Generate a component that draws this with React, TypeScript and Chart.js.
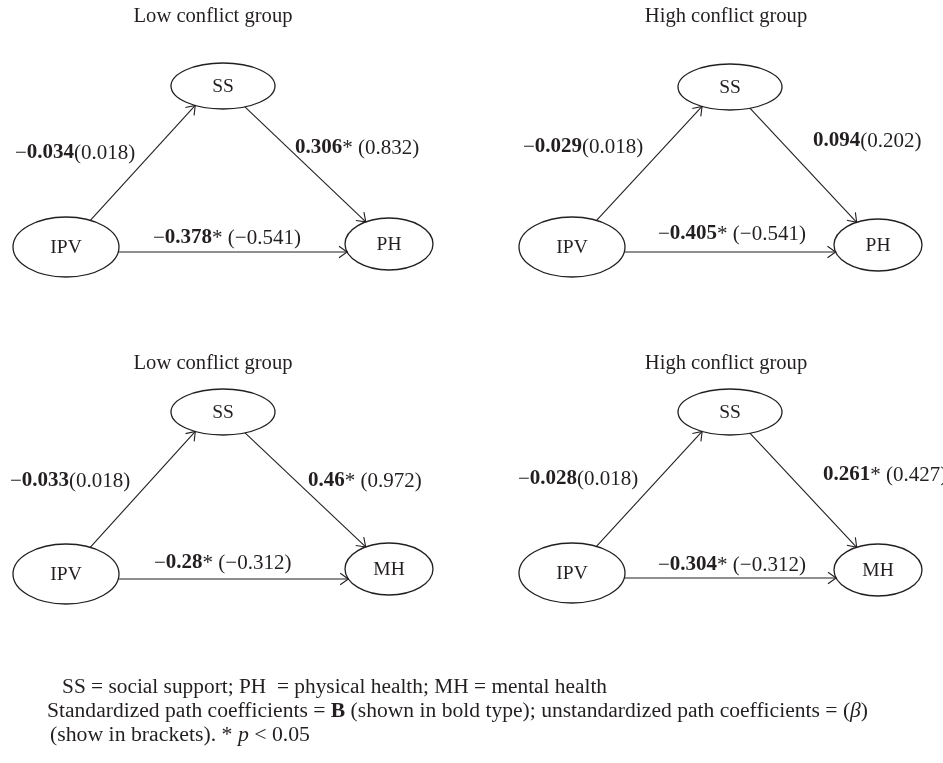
import React, { useEffect, useRef } from "react";
import { Chart, registerables } from "chart.js";
Chart.register(...registerables);

// ---- data ----
const panelTitles = ["Low conflict group", "High conflict group", "Low conflict group", "High conflict group"];
const outcomeNames = ["PH", "PH", "MH", "MH"];
const predictorName = "IPV";
const mediatorName = "SS";

const titleX = [213, 726, 213, 726];
const titleY = [17, 17, 364, 364];
const ssX = [223, 730, 223, 730];
const ssY = [86, 87, 412, 412];
const ipvX = [66, 572, 66, 572];
const ipvY = [247, 247, 574, 573];
const outX = [389, 878, 389, 878];
const outY = [244, 245, 569, 570];

const pathA = [-0.034, -0.029, -0.033, -0.028];
const pathAUn = [0.018, 0.018, 0.018, 0.018];
const pathASig = [false, false, false, false];
const pathB = [0.306, 0.094, 0.46, 0.261];
const pathBUn = [0.832, 0.202, 0.972, 0.427];
const pathBSig = [true, false, true, true];
const pathC = [-0.378, -0.405, -0.28, -0.304];
const pathCUn = [-0.541, -0.541, -0.312, -0.312];
const pathCSig = [true, true, true, true];

const aLabelX = [15, 523, 10, 518];
const aLabelY = [153, 147, 481, 479];
const bLabelX = [295, 813, 308, 823];
const bLabelY = [148, 141, 481, 475];
const cLabelX = [153, 658, 154, 658];
const cLabelY = [238, 234, 563, 565];

const footLines = [
  [{ t: "SS = social support; PH  = physical health; MH = mental health" }],
  [
    { t: "Standardized path coefficients = " },
    { t: "B", b: true },
    { t: " (shown in bold type); unstandardized path coefficients = (" },
    { t: "\u03B2", i: true },
    { t: ")" },
  ],
  [{ t: "(show in brackets). * " }, { t: "p", i: true }, { t: " < 0.05" }],
];
const footX = [62, 47, 50];
const footY = [688, 712, 736];
const footW = [545, 821, 260];

// ---- style ----
const FONT = "'Liberation Serif', 'Times New Roman', serif";
const INK = "#231f20";
const SS_R = [52, 23];
const IPV_R = [53, 30];
const OUT_R = [44, 26];

type Run = { t: string; b?: boolean; i?: boolean };

function fmtAbs(v: number) {
  return String(Math.abs(v));
}
function fmtSigned(v: number) {
  return (v < 0 ? "\u2212" : "") + String(Math.abs(v));
}
function coefRuns(v: number, u: number, sig: boolean): Run[] {
  const r: Run[] = [];
  if (v < 0) r.push({ t: "\u2212" });
  r.push({ t: fmtAbs(v), b: true });
  if (sig) r.push({ t: "* " });
  r.push({ t: "(" + fmtSigned(u) + ")" });
  return r;
}

function setFont(ctx: CanvasRenderingContext2D, r: Run, size: number) {
  ctx.font = `${r.i ? "italic " : ""}${r.b ? "bold " : ""}${size}px ${FONT}`;
}
function runsWidth(ctx: CanvasRenderingContext2D, runs: Run[], size: number) {
  let w = 0;
  for (const r of runs) {
    setFont(ctx, r, size);
    w += ctx.measureText(r.t).width;
  }
  return w;
}
function drawRuns(ctx: CanvasRenderingContext2D, runs: Run[], x: number, y: number, size: number, fitW?: number) {
  ctx.save();
  ctx.textBaseline = "middle";
  ctx.textAlign = "left";
  ctx.fillStyle = INK;
  const w = runsWidth(ctx, runs, size);
  ctx.translate(x, y);
  if (fitW) ctx.scale(fitW / w, 1);
  let cx = 0;
  for (const r of runs) {
    setFont(ctx, r, size);
    ctx.fillText(r.t, cx, 0);
    cx += ctx.measureText(r.t).width;
  }
  ctx.restore();
}

// intersection of line p0->p1 with ellipse; returns both parameters
function hitEllipse(p0: number[], p1: number[], c: number[], rx: number, ry: number) {
  const dx = p1[0] - p0[0], dy = p1[1] - p0[1];
  const ox = p0[0] - c[0], oy = p0[1] - c[1];
  const A = (dx * dx) / (rx * rx) + (dy * dy) / (ry * ry);
  const B = 2 * ((ox * dx) / (rx * rx) + (oy * dy) / (ry * ry));
  const C = (ox * ox) / (rx * rx) + (oy * oy) / (ry * ry) - 1;
  const disc = Math.max(0, B * B - 4 * A * C);
  const s = Math.sqrt(disc);
  return [(-B - s) / (2 * A), (-B + s) / (2 * A)];
}

function arrow(ctx: CanvasRenderingContext2D, a: number[], b: number[]) {
  ctx.beginPath();
  ctx.moveTo(a[0], a[1]);
  ctx.lineTo(b[0], b[1]);
  ctx.stroke();
  const ang = Math.atan2(b[1] - a[1], b[0] - a[0]);
  const L = 10, h = 0.62;
  ctx.beginPath();
  ctx.moveTo(b[0] - L * Math.cos(ang - h), b[1] - L * Math.sin(ang - h));
  ctx.lineTo(b[0], b[1]);
  ctx.lineTo(b[0] - L * Math.cos(ang + h), b[1] - L * Math.sin(ang + h));
  ctx.stroke();
}

const diagramPlugin = {
  id: "pathDiagram",
  afterDatasetsDraw(chart: any) {
    const ctx: CanvasRenderingContext2D = chart.ctx;
    const sx = chart.scales.x, sy = chart.scales.y;
    const X = (v: number) => sx.getPixelForValue(v);
    const Y = (v: number) => sy.getPixelForValue(v);
    ctx.save();
    ctx.strokeStyle = INK;
    ctx.lineWidth = 1.1;
    for (let p = 0; p < panelTitles.length; p++) {
      const ss = [X(ssX[p]), Y(ssY[p])];
      const ip = [X(ipvX[p]), Y(ipvY[p])];
      const ou = [X(outX[p]), Y(outY[p])];

      // title
      ctx.save();
      ctx.font = `20.6px ${FONT}`;
      ctx.fillStyle = INK;
      ctx.textAlign = "center";
      ctx.textBaseline = "middle";
      ctx.fillText(panelTitles[p], X(titleX[p]), Y(titleY[p]));
      ctx.restore();

      // ellipses
      const nodes: [number[], number[], string][] = [
        [ss, SS_R, mediatorName],
        [ip, IPV_R, predictorName],
        [ou, OUT_R, outcomeNames[p]],
      ];
      for (const [c, r, name] of nodes) {
        ctx.beginPath();
        ctx.ellipse(c[0], c[1], r[0], r[1], 0, 0, Math.PI * 2);
        ctx.lineWidth = 1.3;
        ctx.stroke();
        ctx.save();
        ctx.font = `19.5px ${FONT}`;
        ctx.fillStyle = INK;
        ctx.textAlign = "center";
        ctx.textBaseline = "middle";
        ctx.fillText(name, c[0], c[1] + 1);
        ctx.restore();
      }
      ctx.lineWidth = 1.1;

      // path a: IPV -> SS (aimed slightly left of SS centre)
      {
        const p0 = ip, p1 = [ss[0] - 10, ss[1]];
        const t0 = hitEllipse(p0, p1, ip, IPV_R[0], IPV_R[1])[1];
        const t1 = hitEllipse(p0, p1, ss, SS_R[0], SS_R[1])[0];
        const a = [p0[0] + (p1[0] - p0[0]) * t0, p0[1] + (p1[1] - p0[1]) * t0];
        const b = [p0[0] + (p1[0] - p0[0]) * t1, p0[1] + (p1[1] - p0[1]) * t1];
        arrow(ctx, a, b);
      }
      // path b: SS -> outcome
      {
        const p0 = ss, p1 = ou;
        const t0 = hitEllipse(p0, p1, ss, SS_R[0], SS_R[1])[1];
        const t1 = hitEllipse(p0, p1, ou, OUT_R[0], OUT_R[1])[0];
        const a = [p0[0] + (p1[0] - p0[0]) * t0, p0[1] + (p1[1] - p0[1]) * t0];
        const b = [p0[0] + (p1[0] - p0[0]) * t1, p0[1] + (p1[1] - p0[1]) * t1];
        arrow(ctx, a, b);
      }
      // path c: IPV -> outcome (horizontal)
      {
        const yy = ip[1] + 5;
        const p0 = [ip[0], yy], p1 = [ou[0], yy];
        const t0 = hitEllipse(p0, p1, ip, IPV_R[0], IPV_R[1])[1];
        const t1 = hitEllipse(p0, p1, ou, OUT_R[0], OUT_R[1])[0];
        arrow(ctx, [p0[0] + (p1[0] - p0[0]) * t0, yy], [p0[0] + (p1[0] - p0[0]) * t1, yy]);
      }

      drawRuns(ctx, coefRuns(pathA[p], pathAUn[p], pathASig[p]), X(aLabelX[p]), Y(aLabelY[p]), 21);
      drawRuns(ctx, coefRuns(pathB[p], pathBUn[p], pathBSig[p]), X(bLabelX[p]), Y(bLabelY[p]), 21);
      drawRuns(ctx, coefRuns(pathC[p], pathCUn[p], pathCSig[p]), X(cLabelX[p]), Y(cLabelY[p]), 21);
    }
    for (let i = 0; i < footLines.length; i++) {
      drawRuns(ctx, footLines[i] as Run[], X(footX[i]), Y(footY[i]), 20, footW[i]);
    }
    ctx.restore();
  },
};

export default function App() {
  const ref = useRef<HTMLCanvasElement>(null);
  useEffect(() => {
    document.body.style.margin = "0";
    const nodePts: { x: number; y: number }[] = [];
    for (let p = 0; p < panelTitles.length; p++) {
      nodePts.push({ x: ssX[p], y: ssY[p] }, { x: ipvX[p], y: ipvY[p] }, { x: outX[p], y: outY[p] });
    }
    const chart = new Chart(ref.current!, {
      type: "scatter",
      data: {
        datasets: [
          {
            label: "nodes",
            data: nodePts,
            pointRadius: 0,
            pointHoverRadius: 0,
          },
        ],
      },
      options: {
        animation: false,
        responsive: false,
        events: [],
        layout: { padding: 0 },
        plugins: { legend: { display: false }, tooltip: { enabled: false } },
        scales: {
          x: { type: "linear", min: 0, max: 943, display: false },
          y: { type: "linear", min: 0, max: 763, reverse: true, display: false },
        },
      },
      plugins: [diagramPlugin],
    });
    return () => chart.destroy();
  }, []);
  return (
    <div style={{ width: 943, height: 763, background: "#fff" }}>
      <canvas ref={ref} width={943} height={763} style={{ display: "block" }} />
    </div>
  );
}
